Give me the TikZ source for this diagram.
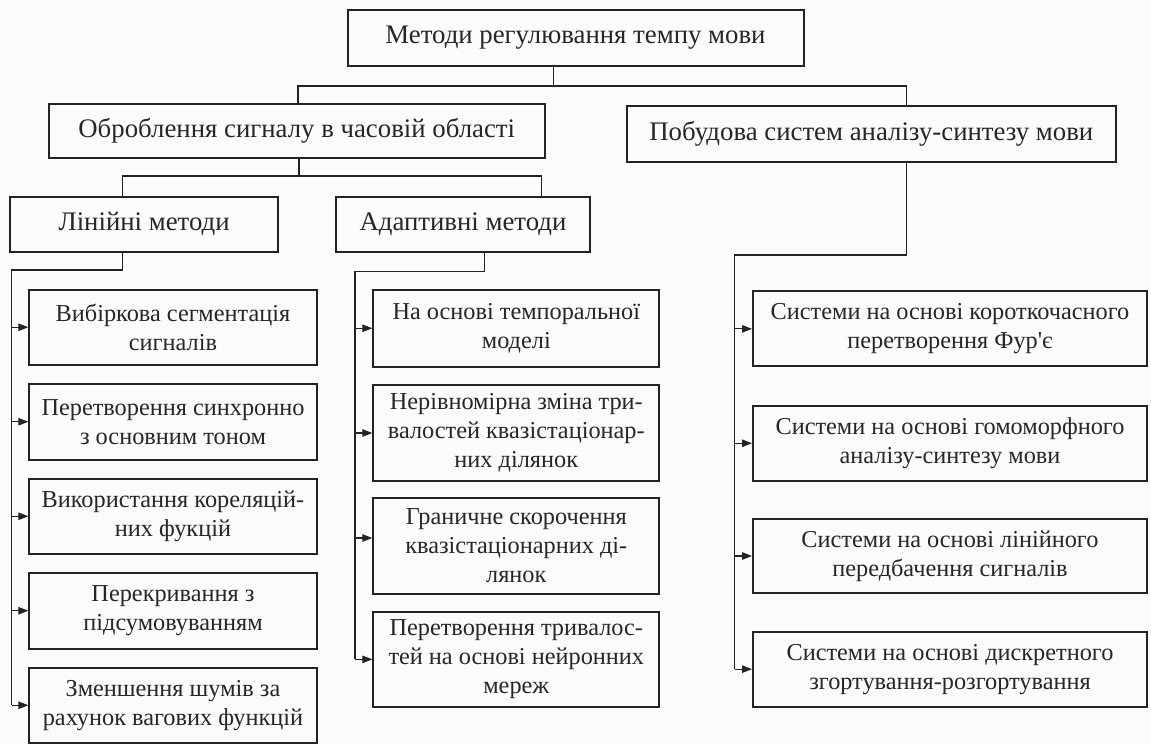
\documentclass[tikz,border=0pt]{standalone}
\usepackage{fontspec}
\setmainfont{Liberation Serif}
\newfontfamily\apofont{Liberation Serif}
\usetikzlibrary{arrows.meta}
\definecolor{ink}{RGB}{35,35,35}
\definecolor{txt}{RGB}{38,38,38}
\definecolor{paper}{RGB}{251,251,249}
\begin{document}
\begin{tikzpicture}[x=1pt,y=-1pt,
  box/.style={draw=ink, line width=2pt, inner sep=0pt, align=center, text=txt,
              font=\fontsize{24.3}{29}\selectfont},
  head/.style={box, font=\fontsize{26.8}{30}\selectfont},
  link/.style={draw=ink, line width=1.1pt},
  arr/.style={link, -{Triangle[length=10pt,width=7.5pt]}}
]
\fill[paper] (0,0) rectangle (1151,745);
\useasboundingbox (0,0) rectangle (1151,745);

% upper levels
\node[head, minimum width=456pt, minimum height=56pt] (top) at (575.5,38) {Методи регулювання темпу мови};
\node[head, minimum width=496.5pt, minimum height=53.5pt] (obr) at (296.75,130.75) {Оброблення сигналу в часовій області};
\node[head, minimum width=489.3pt, minimum height=55.7pt] (pob) at (871.35,133.85) {Побудова систем аналізу-синтезу мови};
\node[head, minimum width=268.3pt, minimum height=55pt] (lin) at (144.15,224.2) {Лінійні методи};
\node[head, minimum width=254pt, minimum height=55.3pt] (ada) at (463,224.35) {Адаптивні методи};

% left column
\tikzset{lcol/.style={box, minimum width=287.4pt, minimum height=75.5pt}}
\node[lcol] (l1) at (173,327.25) {Вибіркова сегментація\\сигналів};
\node[lcol] (l2) at (173,421.75) {Перетворення синхронно\\з основним тоном};
\node[lcol] (l3) at (173,516.25) {Використання кореляцій-\\них фукцій};
\node[lcol] (l4) at (173,610.75) {Перекривання з\\підсумовуванням};
\node[lcol] (l5) at (173,705.25) {Зменшення шумів за\\рахунок вагових функцій};

% adaptive column
\tikzset{acol/.style={box, minimum width=286pt}}
\node[acol, minimum height=76.5pt] (a1) at (516.3,328.25) {На основі темпоральної\\моделі};
\node[acol, minimum height=96pt] (a2) at (516.3,433) {Нерівномірна зміна три-\\валостей квазістаціонар-\\них ділянок};
\node[acol, minimum height=96pt] (a3) at (516.3,546) {Граничне скорочення\\квазістаціонарних ді-\\лянок};
\node[acol, minimum height=95.3pt] (a4) at (516.3,659.35) {Перетворення тривалос-\\тей на основі нейронних\\мереж};

% right column
\tikzset{rcol/.style={box, minimum width=394pt, minimum height=74.8pt}}
\node[rcol] (r1) at (950,328.85) {Системи на основі короткочасного\\перетворення Фур{\apofont '}є};
\node[rcol] (r2) at (950,443.25) {Системи на основі гомоморфного\\аналізу-синтезу мови};
\node[rcol] (r3) at (950,556) {Системи на основі лінійного\\передбачення сигналів};
\node[rcol] (r4) at (950,669.15) {Системи на основі дискретного\\згортування-розгортування};

% connectors: top level
\coordinate (b1L) at (298,86);
\coordinate (b1R) at (906.7,86);
\draw[link] ([xshift=-21.7pt]top.south) -- ([xshift=-21.7pt]top.south |- b1L);
\draw[link] (obr.north -| b1L) |- (b1R) -- (b1R |- pob.north);

% connectors: time-domain branch
\coordinate (b2L) at (122.3,176);
\coordinate (b2M) at (299,176);
\coordinate (b2R) at (541.5,176);
\draw[link] (obr.south -| b2M) -- (b2M);
\draw[link] (lin.north -| b2L) |- (b2R) -- (b2R |- ada.north);

% linear methods trunk
\coordinate (t1) at (11.5,270);
\draw[link] (lin.south -| b2L) |- (t1) -- (t1 |- l5.west);
\foreach \n in {l1,l2,l3,l4,l5} \draw[arr] (\n.west -| t1) -- (\n.west);

% adaptive methods trunk
\coordinate (d2) at (484.3,271.7);
\coordinate (t2) at (355,271.7);
\draw[link] (ada.south -| d2) -- (d2) -- (t2) -- (t2 |- a4.west);
\foreach \n in {a1,a2,a4} \draw[arr] (\n.west -| t2) -- (\n.west);
\draw[arr] ([yshift=8pt]a3.west -| t2) -- ([yshift=8pt]a3.west);

% analysis-synthesis trunk
\coordinate (d3) at (906.7,255);
\coordinate (t3) at (734.5,255);
\draw[link] (pob.south -| d3) -- (d3) -- (t3) -- (t3 |- r4.west);
\foreach \n in {r1,r2,r3,r4} \draw[arr] (\n.west -| t3) -- (\n.west);
\end{tikzpicture}
\end{document}
